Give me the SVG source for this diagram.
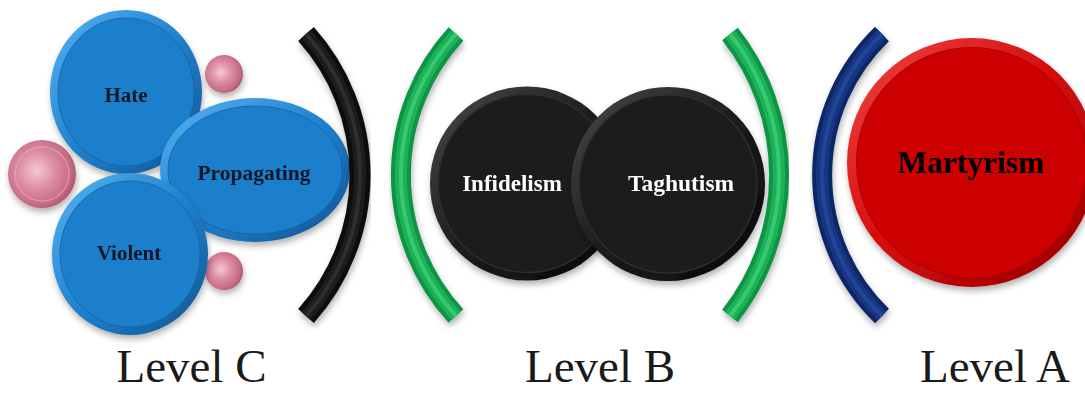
<svg xmlns="http://www.w3.org/2000/svg" width="1085" height="393" viewBox="0 0 1085 393">
<defs>
  <filter id="sh" x="-20%" y="-20%" width="140%" height="150%">
    <feDropShadow dx="1" dy="4" stdDeviation="3" flood-color="#000" flood-opacity="0.3"/>
  </filter>
  <linearGradient id="rimBlue" x1="0" y1="0" x2="1" y2="1">
    <stop offset="0" stop-color="#58b4f4"/><stop offset="0.5" stop-color="#2082cf"/><stop offset="1" stop-color="#12528f"/>
  </linearGradient>
  <linearGradient id="rimBlack" x1="0" y1="0" x2="1" y2="1">
    <stop offset="0" stop-color="#4a4a4a"/><stop offset="0.5" stop-color="#1c1c1c"/><stop offset="1" stop-color="#080808"/>
  </linearGradient>
  <linearGradient id="rimRed" x1="0" y1="0" x2="1" y2="1">
    <stop offset="0" stop-color="#f24545"/><stop offset="0.5" stop-color="#d20a0a"/><stop offset="1" stop-color="#930000"/>
  </linearGradient>
  <radialGradient id="pink" cx="0.42" cy="0.45" r="0.6">
    <stop offset="0" stop-color="#f6c8d3"/><stop offset="0.45" stop-color="#dc8ea3"/><stop offset="0.85" stop-color="#c56a82"/><stop offset="1" stop-color="#a9526a"/>
  </radialGradient>
  <style>
    .lbl{font-family:"Liberation Serif","Times New Roman",serif;font-weight:bold;text-anchor:middle}
    .dark{fill:#111827}
    .white{fill:#ffffff}
    .lvl{font-family:"Liberation Serif","Times New Roman",serif;font-size:47px;fill:#1a1a1a;text-anchor:middle}
    .in-blue{fill:#1f7fcc;stroke:#1868ad;stroke-width:1}
    .in-black{fill:#1b1b1b;stroke:#2e2e2e;stroke-width:1.5}
    .in-red{fill:#cc0000;stroke:#b00000;stroke-width:1}
    .arc{fill:none;stroke-linecap:butt}
  </style>
</defs>
<rect width="1085" height="393" fill="#ffffff"/>

<!-- Level C -->
<g id="pink-top" filter="url(#sh)"><circle cx="224" cy="74" r="19" fill="url(#pink)"/></g>
<g id="pink-left" filter="url(#sh)"><circle cx="42" cy="174" r="34" fill="url(#pink)"/><circle cx="42" cy="174" r="27" fill="none" stroke="#e9a9b9" stroke-width="1.5" opacity="0.6"/></g>
<g id="pink-bottom" filter="url(#sh)"><circle cx="224" cy="271" r="19" fill="url(#pink)"/></g>

<g id="hate" filter="url(#sh)">
  <ellipse cx="126" cy="92" rx="76" ry="82" fill="url(#rimBlue)"/>
  <ellipse cx="126" cy="92" rx="68" ry="74" class="in-blue"/>
  <text x="126" y="102" class="lbl dark" font-size="21">Hate</text>
</g>
<g id="propagating" filter="url(#sh)">
  <ellipse cx="255" cy="170" rx="95" ry="72" fill="url(#rimBlue)"/>
  <ellipse cx="255" cy="170" rx="87" ry="64" class="in-blue"/>
  <text x="254" y="180" class="lbl dark" font-size="21.5">Propagating</text>
</g>
<g id="violent" filter="url(#sh)">
  <ellipse cx="130" cy="254" rx="78" ry="81" fill="url(#rimBlue)"/>
  <ellipse cx="130" cy="254" rx="70" ry="73" class="in-blue"/>
  <text x="129" y="260" class="lbl dark" font-size="21">Violent</text>
</g>

<!-- Level B -->
<g id="infidelism" filter="url(#sh)">
  <circle cx="527" cy="183.5" r="97" fill="url(#rimBlack)"/>
  <circle cx="527" cy="183.5" r="89" class="in-black"/>
  <text x="512" y="191" class="lbl white" font-size="23">Infidelism</text>
</g>
<g id="taghutism" filter="url(#sh)">
  <circle cx="668" cy="184" r="97" fill="url(#rimBlack)"/>
  <circle cx="668" cy="184" r="89" class="in-black"/>
  <text x="681" y="191" class="lbl white" font-size="23.5">Taghutism</text>
</g>

<!-- Level A -->
<g id="martyrism" filter="url(#sh)">
  <circle cx="971.5" cy="162.5" r="124.5" fill="url(#rimRed)"/>
  <circle cx="971.5" cy="162.5" r="115" class="in-red"/>
  <text x="971" y="173" class="lbl" fill="#000" font-size="31.5">Martyrism</text>
</g>

<!-- Brackets -->
<g id="brackets">
  <g id="bracket-black" filter="url(#sh)">
    <path class="arc" d="M306,34 A211,211 0 0 1 306,316" stroke="#0c0c0c" stroke-width="21"/>
    <path class="arc" d="M306,34 A211,211 0 0 1 306,316" stroke="#1d1d1d" stroke-width="12"/>
    <path class="arc" d="M306,34 A211,211 0 0 1 306,316" stroke="#2f2f2f" stroke-width="4"/>
  </g>
  <g id="bracket-green-left" filter="url(#sh)">
    <path class="arc" d="M456,34 A208,208 0 0 0 456,316" stroke="#0f9445" stroke-width="20"/>
    <path class="arc" d="M456,34 A208,208 0 0 0 456,316" stroke="#1fb058" stroke-width="12"/>
    <path class="arc" d="M456,34 A208,208 0 0 0 456,316" stroke="#36c96f" stroke-width="4"/>
  </g>
  <g id="bracket-green-right" filter="url(#sh)">
    <path class="arc" d="M730,34 A227,227 0 0 1 730,316" stroke="#0f9445" stroke-width="20"/>
    <path class="arc" d="M730,34 A227,227 0 0 1 730,316" stroke="#1fb058" stroke-width="12"/>
    <path class="arc" d="M730,34 A227,227 0 0 1 730,316" stroke="#36c96f" stroke-width="4"/>
  </g>
  <g id="bracket-blue" filter="url(#sh)">
    <path class="arc" d="M882,34 A196,196 0 0 0 882,316" stroke="#102766" stroke-width="20"/>
    <path class="arc" d="M882,34 A196,196 0 0 0 882,316" stroke="#183682" stroke-width="12"/>
    <path class="arc" d="M882,34 A196,196 0 0 0 882,316" stroke="#244595" stroke-width="4"/>
  </g>
</g>

<!-- Level labels -->
<g id="levels">
  <text x="191.5" y="382" class="lvl">Level C</text>
  <text x="600" y="382" class="lvl">Level B</text>
  <text x="995" y="382" class="lvl">Level A</text>
</g>
</svg>
